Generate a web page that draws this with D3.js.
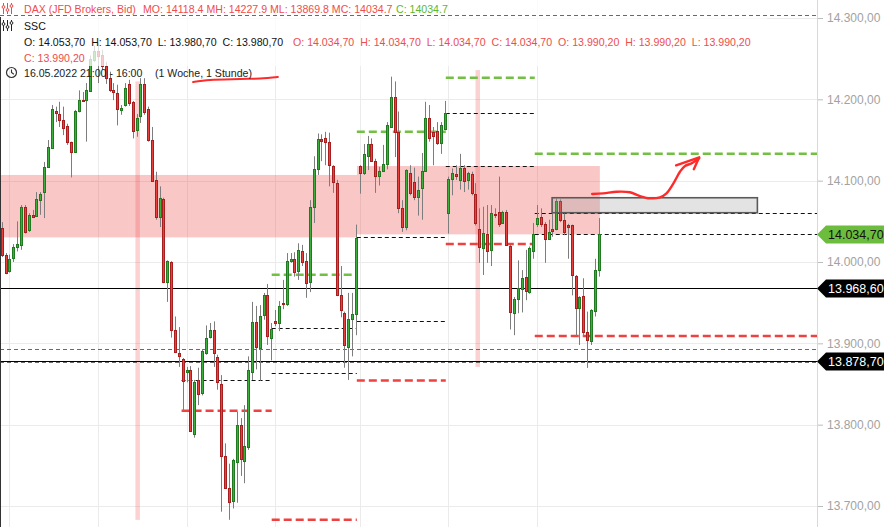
<!DOCTYPE html>
<html><head><meta charset="utf-8">
<script src="https://cdn.jsdelivr.net/npm/d3@7"></script>
<style>body{margin:0;background:#fff;}svg{display:block;font-family:"Liberation Sans",Arial,sans-serif;}</style>
</head><body><svg id="c" width="884" height="527"></svg>
<script>
// ---------- DATA ----------
const opens=[14042,14009,13989,14004,14018,14021,14068,14039,14058,14057,14077,14086,14118,14140,14186,14182,14175,14167,14147,14135,14185,14199,14199,14211,14248,14259,14255,14241,14226,14211,14208,14186,14193,14219,14197,14162,14180,14219,14188,14150,14101,14056,14077,13975,14000,13916,13888,13881,13864,13867,13789,13855,13838,13889,13908,13917,13883,13850,13761,13722,13706,13754,13800,13756,13772,13865,13926,13895,13934,13959,13907,13927,13925,13949,13948,14001,14004,13989,14013,14001,13976,14067,14114,14151,14152,14147,14118,14097,13959,13937,13896,13930,13937,14118.4,14110,14130,14145,14124,14106,14112,14120,14166,14203,14160,14066,14043,14110,14098,14080,14091,14112,14177,14160,14161,14146,14163,14060,14102,14108,14100,14116,14101,14108,14084,14041,14017,14034,14014,14059,14062,14048,14062,14020,13938,13954,13966,13982,13963,14013,14047,14055,14047,14029,14040,14040,14075,14052,14045,14045,13983,13943,13958,13914,13903,13940,13990.2];
const closes=[14009,13987,14004,14018,14022,14068,14037,14058,14056,14078,14084,14117,14142,14188,14184,14175,14165,14147,14135,14186,14199,14198,14211,14250,14259,14253,14241,14226,14211,14209,14188,14189,14214,14196,14161,14177,14219,14185,14150,14100,14055,14079,13975,14001,13916,13889,13884,13854,13867,13792,13853,13838,13890,13907,13916,13889,13852,13762,13722,13705,13756,13800,13758,13774,13867,13926,13895,13934,13959,13908,13918,13925,13946,13948,14001,14004,13988,14015,14000,13974,14068,14114,14151,14149,14147,14119,14098,13959,13940,13898,13930,13936,14030,14110,14133,14145,14124,14105,14112,14120,14168,14203,14160,14066,14043,14113,14085,14079,14089,14112,14177,14153,14155,14146,14168,14183,14102,14109,14105,14115,14100,14109,14085,14048,14019,14036,14013,14060,14058,14047,14061,14021,13939,13955,13968,13980,13965,14017,14034,14054,14047,14029,14037,14038,14075,14052,14037,14043,13984,13944,13957,13914,13904,13941,13990,14034.7];
const highs=[14049,14011,14009,14022,14050,14070,14070,14060,14064,14086,14086,14123,14150,14193,14191,14197,14191,14170,14148,14187,14211,14209,14220,14254,14266,14269,14261,14246,14234,14220,14218,14193,14220,14224,14198,14182,14226,14226,14191,14166,14111,14093,14079,14002,14001,13933,13920,13882,13871,13872,13855,13870,13893,13922,13925,13927,13886,13861,13777,13752,13758,13816,13808,13824,13884,13951,13946,13947,13962,13973,13925,13941,13952,13978,14011,14011,14012,14023,14021,14011,14076,14130,14158,14157,14160,14159,14119,14101,13995,13939,13962,13962,14046,14119,14145,14155,14152,14127,14117,14144,14172,14227.9,14222,14185,14076,14114,14119,14116,14105,14134,14197,14193,14166,14172,14172,14198,14105,14115,14119,14133,14119,14111,14111,14097,14066,14068,14070,14070,14066,14105,14063,14064,14021,13957,14002,13990,14015,14019,14048,14070,14066,14049,14052,14060,14078,14077,14060,14047,14046,13984,13958,13980,13939,13942,14004,14054];
const lows=[14006,13985,13987,14000,14013,14015,14035,14037,14054,14056,14058,14054,14117,14139,14172,14166,14156,14144,14104,14134,14184,14197,14148,14209,14246,14220,14236,14219,14209,14199,14168,14181,14191,14192,14152,14154,14171,14181,14148,14099,14052,14043,13974,13951,13907,13888,13871,13817,13852,13791,13784,13824,13836,13886,13906,13871,13843,13693,13721,13683,13697,13704,13737,13728,13769,13855,13868,13854,13929,13898,13879,13921,13915,13942,13946,13999,13982,13978,13995,13956,13963,14048,14107,14124,14119,14093,14085,13958,13932,13870,13855,13884,13910,14084,14107,14113,14123,14085,14094,14111,14114,14165,14129,14060,14037,14039,14082,14076,14057,14052,14111,14148,14119,14144,14133,14162,14035,14082,14101,14089,14086,14089,14082,14045,13999,13984,13999,13995,14054,14043,14047,14020,13917,13910,13937,13938,13953,13961,14004,14043,14043,13999,14028,14031,14039,14049,14033,14004,13959,13909,13898,13908,13869.8,13898,13933,13982];

const yTicks=[13700,13800,13900,14000,14100,14200,14300];
const dayStarts=[2,25,48,71,93,116,139];

// support / resistance zones (candle-index span, price span)
const zoneFrom=[-0.45,92.24], zoneTo=[92.24,155.3], zoneTop=[14107,14118], zoneBottom=[14030.3,14034];
// session highlight stripes
const stripeIdx=[35.3,123.6], stripeTop=[14222,14236], stripeBottom=[13683,13871];

// full-width levels
const solidLevels=[13968.6,13878.7];
const grayDashLevels=[14303.7,13892.6,13876.6];

// daily level segments
const segFrom=[46.7,70.1,92.2,115.3,138.4], segTo=[70.1,92.2,115.3,138.4,212];
const blackLevels=[[13854.5],[13918.5,13863.1],[14030.3,13927.1],[14182.8,14117.6],[14060.2,14034]];
const greenLevels=[[],[13984.4],[14160.2],[14226.6],[14133]];
const redLevels=[[13817],[13683.1],[13854.3],[14022.1],[13909]];

// drawn annotations (candle index, price)
const boxIdx=[142.9,196.2], boxPrice=[14079,14060.6];
const arrowIdx=[153.3,156.2,159.7,163.1,165.7,168.3,170.9,172.6,174.4,176.1,177.4,179.1,181.1];
const arrowPrice=[14083.6,14084.4,14086.4,14085.7,14081.1,14078.3,14079.5,14084.4,14096.7,14111,14118,14121.3,14127.5];
const headIdx=[175.1,181.1,179.7], headPrice=[14118.9,14128.7,14114];
const underIdx=[49.7,54.1,61.9,67.1,71.7], underPrice=[14221.3,14223.8,14225,14225.6,14227.5];

const lastPrice=14034.7;

// header texts
const hdrTitle="DAX (JFD Brokers, Bid)";
const hdrPeriod="MO: 14118.4 MH: 14227.9 ML: 13869.8 MC: 14034.7";
const hdrClose="C: 14034.7";
const hdrInd="SSC";
const hdrBlack="O: 14.053,70  H: 14.053,70  L: 13.980,70  C: 13.980,70";
const hdrRed="O: 14.034,70  H: 14.034,70  L: 14.034,70  C: 14.034,70  O: 13.990,20  H: 13.990,20  L: 13.990,20";
const hdrRed2="C: 13.990,20";
const hdrTime="16.05.2022 21:00 - 16:00";
const hdrSpan="(1 Woche, 1 Stunde)";

// ---------- SCALES ----------
const svg=d3.select("#c");
const W=884,H=527,R=818;
const x=d3.scaleLinear().domain([0,155]).range([1.7,598.7]);
const y=d3.scaleLinear().domain([13700,14300]).range([506,18]);
const de=d3.formatLocale({decimal:",",thousands:".",grouping:[3],currency:["","€"]}).format(",.2f");
const step=x(1)-x(0);
const nb=s=>s.replace(/  /g,"\u00a0 ");

// grid
const g0=svg.append("g");
g0.selectAll("line.h").data(yTicks).join("line")
  .attr("x1",0).attr("x2",R).attr("y1",d=>Math.round(y(d))+0.5).attr("y2",d=>Math.round(y(d))+0.5)
  .attr("stroke","#ebebeb");
g0.selectAll("line.v").data(dayStarts).join("line")
  .attr("x1",d=>Math.round(x(d))+0.5).attr("x2",d=>Math.round(x(d))+0.5).attr("y1",0).attr("y2",H)
  .attr("stroke","#ebebeb");

// zones & stripes
const zones=zoneFrom.map((f,i)=>({f,t:zoneTo[i],top:zoneTop[i],bot:zoneBottom[i]}));
svg.append("g").selectAll("rect").data(zones).join("rect")
  .attr("x",d=>Math.max(0,x(d.f))).attr("width",d=>x(d.t)-Math.max(0,x(d.f)))
  .attr("y",d=>y(d.top)).attr("height",d=>y(d.bot)-y(d.top))
  .attr("fill","rgb(240,70,70)").attr("fill-opacity",0.3);
const stripes=stripeIdx.map((c,i)=>({c,top:stripeTop[i],bot:stripeBottom[i]}));
svg.append("g").selectAll("rect").data(stripes).join("rect")
  .attr("x",d=>x(d.c)-step*0.58).attr("width",step*1.16)
  .attr("y",d=>y(d.top)).attr("height",d=>y(d.bot)-y(d.top))
  .attr("fill","rgb(240,70,70)").attr("fill-opacity",0.25);

// full-width lines
const gl=svg.append("g");
gl.selectAll("line.s").data(solidLevels).join("line")
  .attr("x1",0).attr("x2",R).attr("y1",d=>Math.round(y(d))+0.5).attr("y2",d=>Math.round(y(d))+0.5)
  .attr("stroke","#000").attr("stroke-width",1.2);
gl.selectAll("line.g").data(grayDashLevels.slice(1)).join("line")
  .attr("x1",0).attr("x2",R).attr("y1",d=>Math.round(y(d))+0.5).attr("y2",d=>Math.round(y(d))+0.5)
  .attr("stroke","#6a6a6a").attr("stroke-dasharray","4,3");

// segment levels
function segs(levels){const out=[];levels.forEach((arr,i)=>arr.forEach(v=>out.push({f:segFrom[i],t:segTo[i],v})));return out;}
gl.append("g").selectAll("line").data(segs(blackLevels)).join("line")
  .attr("x1",d=>x(d.f)).attr("x2",d=>Math.min(R,x(d.t))).attr("y1",d=>Math.round(y(d.v))+0.5).attr("y2",d=>Math.round(y(d.v))+0.5)
  .attr("stroke","#111").attr("stroke-dasharray","4,3");
gl.append("g").selectAll("line").data(segs(greenLevels)).join("line")
  .attr("x1",d=>x(d.f)).attr("x2",d=>Math.min(R,x(d.t))).attr("y1",d=>y(d.v)).attr("y2",d=>y(d.v))
  .attr("stroke","#72c043").attr("stroke-width",2.5).attr("stroke-dasharray","8,4");
gl.append("g").selectAll("line").data(segs(redLevels)).join("line")
  .attr("x1",d=>x(d.f)).attr("x2",d=>Math.min(R,x(d.t))).attr("y1",d=>y(d.v)).attr("y2",d=>y(d.v))
  .attr("stroke","#f04141").attr("stroke-width",2.5).attr("stroke-dasharray","8,4");

// candles
const candles=opens.map((o,i)=>({i,o,c:closes[i],h:highs[i],l:lows[i]}));
const gc=svg.append("g");
gc.selectAll("line").data(candles).join("line")
  .attr("x1",d=>Math.round(x(d.i))+0.5).attr("x2",d=>Math.round(x(d.i))+0.5)
  .attr("y1",d=>y(d.h)).attr("y2",d=>y(d.l)).attr("stroke","#7d7d7d").attr("stroke-width",1);
gc.selectAll("rect").data(candles).join("rect")
  .attr("x",d=>Math.round(x(d.i))-0.5).attr("width",2)
  .attr("y",d=>Math.round(y(Math.max(d.o,d.c)))+0.5)
  .attr("height",d=>Math.max(1,Math.round(Math.abs(y(d.o)-y(d.c)))))
  .attr("fill",d=>d.c>=d.o?"#3cae3c":"#e8413d")
  .attr("stroke",d=>d.c>=d.o?"#207a20":"#a81d1d").attr("stroke-width",1);

// annotations
svg.append("rect").attr("x",x(boxIdx[0])).attr("width",x(boxIdx[1])-x(boxIdx[0]))
  .attr("y",y(boxPrice[0])).attr("height",y(boxPrice[1])-y(boxPrice[0]))
  .attr("fill","rgb(150,150,150)").attr("fill-opacity",0.27).attr("stroke","#5a5a5a").attr("stroke-width",1.6);
const ln=d3.line().x(d=>x(d[0])).y(d=>y(d[1])).curve(d3.curveCatmullRom);
svg.append("path").attr("d",ln(arrowIdx.map((v,i)=>[v,arrowPrice[i]])))
  .attr("fill","none").attr("stroke","#ff2a2a").attr("stroke-width",2.4).attr("stroke-linecap","round").attr("stroke-linejoin","round");
svg.append("path").attr("d",d3.line().x(d=>x(d[0])).y(d=>y(d[1]))(headIdx.map((v,i)=>[v,headPrice[i]])))
  .attr("fill","none").attr("stroke","#ff2a2a").attr("stroke-width",2.4).attr("stroke-linecap","round").attr("stroke-linejoin","round");

// header background
svg.append("rect").attr("x",0).attr("y",0).attr("width",767).attr("height",66).attr("fill","#fff").attr("fill-opacity",0.75);
svg.append("line").attr("x1",0).attr("x2",R).attr("y1",Math.round(y(grayDashLevels[0]))+0.5).attr("y2",Math.round(y(grayDashLevels[0]))+0.5)
  .attr("stroke","#6a6a6a").attr("stroke-dasharray","4,3");
svg.append("path").attr("d",ln(underIdx.map((v,i)=>[v,underPrice[i]])))
  .attr("fill","none").attr("stroke","#ff2a2a").attr("stroke-width",2).attr("stroke-linecap","round");

// left border
svg.append("line").attr("x1",0.5).attr("x2",0.5).attr("y1",17).attr("y2",H).attr("stroke","#333");

// header text
const hd=svg.append("g").attr("font-size",10.6);
function icon(g,cx,cy,col){
  [0,4,8].forEach((dx,k)=>{
    g.append("line").attr("x1",cx+dx+0.5).attr("x2",cx+dx+0.5).attr("y1",cy-5).attr("y2",cy+6).attr("stroke",col).attr("stroke-width",1);
    g.append("circle").attr("cx",cx+dx+0.5).attr("cy",cy+[-1,2,-2][k]).attr("r",1.4).attr("fill","#fff").attr("stroke",col);
  });
}
icon(hd,3,8,"#e84a4a");
icon(hd,3,25,"#222");
const red="#ee4d4d";
hd.append("text").attr("x",24).attr("y",13).attr("fill",red).text(hdrTitle);
hd.append("text").attr("x",143).attr("y",13).attr("fill",red).text(hdrPeriod);
hd.append("text").attr("x",396).attr("y",13).attr("fill","#5db82d").text(hdrClose);
hd.append("text").attr("x",24).attr("y",29.5).attr("fill","#111").text(hdrInd);
hd.append("text").attr("x",24).attr("y",46).attr("fill","#111").text(nb(hdrBlack));
hd.append("text").attr("x",293).attr("y",46).attr("fill",red).text(nb(hdrRed));
hd.append("text").attr("x",24).attr("y",61.5).attr("fill",red).text(hdrRed2);
hd.append("circle").attr("cx",11.5).attr("cy",72.5).attr("r",5).attr("fill","none").attr("stroke","#333").attr("stroke-width",1.2);
hd.append("path").attr("d","M11.5,69.5V72.5L13.8,74.3").attr("fill","none").attr("stroke","#333").attr("stroke-width",1.1);
hd.append("text").attr("x",24).attr("y",77).attr("fill","#222").text(hdrTime);
hd.append("text").attr("x",155).attr("y",77).attr("fill","#222").text(hdrSpan);

// right axis
svg.append("line").attr("x1",R-0.5).attr("x2",R-0.5).attr("y1",0).attr("y2",H).attr("stroke","#d9d9d9");
const ax=svg.append("g").attr("transform",`translate(${R},0)`)
  .call(d3.axisRight(y).tickValues(yTicks).tickFormat(de).tickSize(5).tickPadding(4));
ax.select(".domain").remove();
ax.selectAll(".tick line").attr("stroke","#bdbdbd");
ax.selectAll(".tick text").attr("fill","#a2a2a2").attr("font-size",12).attr("font-family","Liberation Sans, Arial, sans-serif");

// price labels
const labels=[{v:lastPrice,bg:"#6cbd3d",fg:"#111"},{v:solidLevels[0],bg:"#000",fg:"#fff"},{v:solidLevels[1],bg:"#000",fg:"#fff"}];
const gL=svg.append("g");
labels.forEach(d=>{
  const yy=Math.round(y(d.v))+0.5;
  gL.append("path").attr("d",`M${R-1},${yy}L${R+8},${yy-9}H${W}V${yy+9}H${R+8}Z`).attr("fill",d.bg);
  gL.append("text").attr("x",828).attr("y",yy+4.5).attr("fill",d.fg).attr("font-size",12.5).text(de(d.v));
});
</script></body></html>
